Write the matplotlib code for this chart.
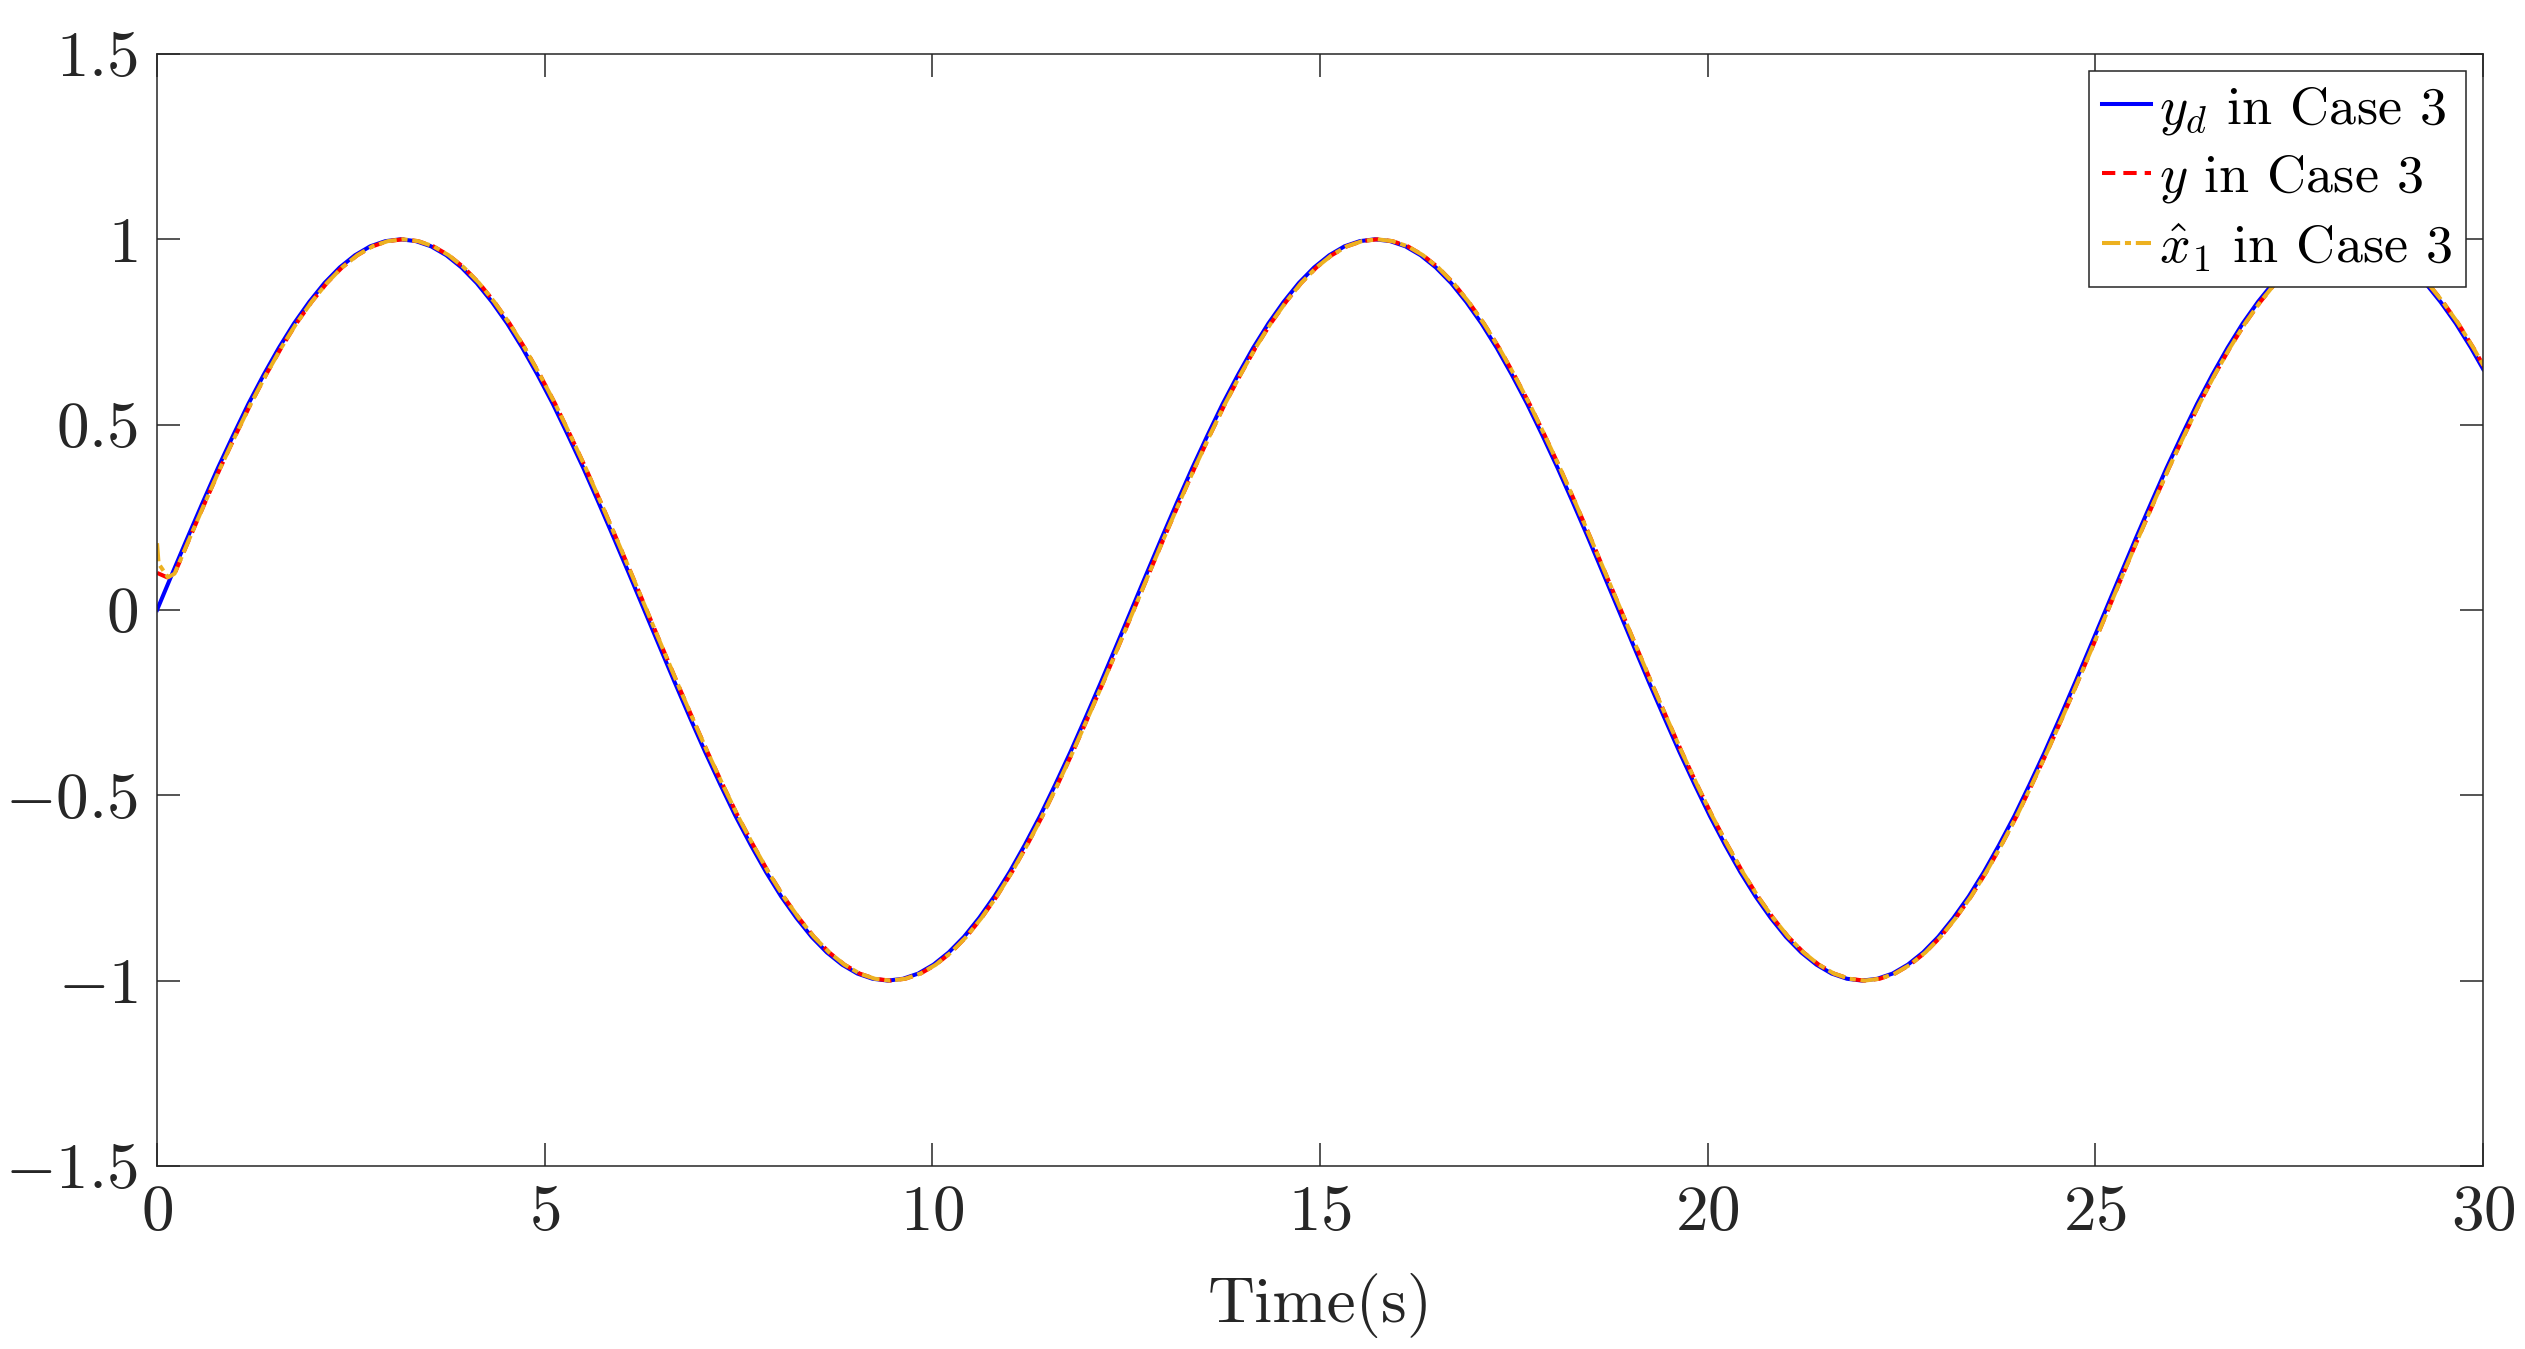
import matplotlib
matplotlib.use("Agg")
import matplotlib.pyplot as plt

# sample times (s) of the tracking run
t = [0.0, 0.196, 0.393, 0.589, 0.785, 0.982, 1.178, 1.374, 1.571, 1.767, 1.963, 2.160, 2.356, 2.553, 2.749, 2.945,
     3.142, 3.338, 3.534, 3.731, 3.927, 4.123, 4.320, 4.516, 4.712, 4.909, 5.105, 5.301, 5.498, 5.694, 5.890, 6.087,
     6.283, 6.480, 6.676, 6.872, 7.069, 7.265, 7.461, 7.658, 7.854, 8.050, 8.247, 8.443, 8.639, 8.836, 9.032, 9.228,
     9.425, 9.621, 9.817, 10.014, 10.210, 10.407, 10.603, 10.799, 10.996, 11.192, 11.388, 11.585, 11.781, 11.977, 12.174, 12.370,
     12.566, 12.763, 12.959, 13.155, 13.352, 13.548, 13.744, 13.941, 14.137, 14.334, 14.530, 14.726, 14.923, 15.119, 15.315, 15.512,
     15.708, 15.904, 16.101, 16.297, 16.493, 16.690, 16.886, 17.082, 17.279, 17.475, 17.671, 17.868, 18.064, 18.261, 18.457, 18.653,
     18.850, 19.046, 19.242, 19.439, 19.635, 19.831, 20.028, 20.224, 20.420, 20.617, 20.813, 21.009, 21.206, 21.402, 21.598, 21.795,
     21.991, 22.188, 22.384, 22.580, 22.777, 22.973, 23.169, 23.366, 23.562, 23.758, 23.955, 24.151, 24.347, 24.544, 24.740, 24.936,
     25.133, 25.329, 25.525, 25.722, 25.918, 26.115, 26.311, 26.507, 26.704, 26.900, 27.096, 27.293, 27.489, 27.685, 27.882, 28.078,
     28.274, 28.471, 28.667, 28.863, 29.060, 29.256, 29.452, 29.649, 29.845, 30.0]

# reference signal y_d
yd = [0.0, 0.098, 0.195, 0.290, 0.383, 0.471, 0.556, 0.634, 0.707, 0.773, 0.831, 0.882, 0.924, 0.957, 0.981, 0.995,
      1.0, 0.995, 0.981, 0.957, 0.924, 0.882, 0.831, 0.773, 0.707, 0.634, 0.556, 0.471, 0.383, 0.290, 0.195, 0.098,
      0.0, -0.098, -0.195, -0.290, -0.383, -0.471, -0.556, -0.634, -0.707, -0.773, -0.831, -0.882, -0.924, -0.957, -0.981, -0.995,
      -1.0, -0.995, -0.981, -0.957, -0.924, -0.882, -0.831, -0.773, -0.707, -0.634, -0.556, -0.471, -0.383, -0.290, -0.195, -0.098,
      0.0, 0.098, 0.195, 0.290, 0.383, 0.471, 0.556, 0.634, 0.707, 0.773, 0.831, 0.882, 0.924, 0.957, 0.981, 0.995,
      1.0, 0.995, 0.981, 0.957, 0.924, 0.882, 0.831, 0.773, 0.707, 0.634, 0.556, 0.471, 0.383, 0.290, 0.195, 0.098,
      0.0, -0.098, -0.195, -0.290, -0.383, -0.471, -0.556, -0.634, -0.707, -0.773, -0.831, -0.882, -0.924, -0.957, -0.981, -0.995,
      -1.0, -0.995, -0.981, -0.957, -0.924, -0.882, -0.831, -0.773, -0.707, -0.634, -0.556, -0.471, -0.383, -0.290, -0.195, -0.098,
      0.0, 0.098, 0.195, 0.290, 0.383, 0.471, 0.556, 0.634, 0.707, 0.773, 0.831, 0.882, 0.924, 0.957, 0.981, 0.995,
      1.0, 0.995, 0.981, 0.957, 0.924, 0.882, 0.831, 0.773, 0.707, 0.650]

# y and x1_hat follow y_d with a small delay (s) after an initial transient
lag = 0.03
y_t_start = [0.0, 0.13]
y_start = [0.10, 0.088]
xh_t_start = [0.0, 0.02, 0.14]
xh_start = [0.18, 0.125, 0.088]

y_t = y_t_start + [v + lag for v in t[1:]]
y = y_start + yd[1:]
xh_t = xh_t_start + [v + lag for v in t[1:]]
xh = xh_start + yd[1:]

xticks = [0, 5, 10, 15, 20, 25, 30]
xticklabels = ['$0$', '$5$', '$10$', '$15$', '$20$', '$25$', '$30$']
yticks = [-1.5, -1, -0.5, 0, 0.5, 1, 1.5]
yticklabels = ['$-1.5$', '$-1$', '$-0.5$', '$0$', '$0.5$', '$1$', '$1.5$']

plt.rcParams['font.family'] = 'serif'
plt.rcParams['font.serif'] = ['cmr10']
plt.rcParams['mathtext.fontset'] = 'cm'
plt.rcParams['axes.unicode_minus'] = False

dark = '#262626'
fig = plt.figure(figsize=(25.25, 13.49), dpi=100)
ax = fig.add_axes([0.0622, 0.1357, 0.9212, 0.8243])

lw = 2.9
ax.plot(t, yd, color='blue', lw=lw, label=r'$y_d$ in Case 3')
ax.plot(y_t, y, color='red', lw=lw, dashes=(3.3, 2.0), label=r'$y$ in Case 3')
ax.plot(xh_t, xh, color='#EDB120', lw=lw, dashes=(4.5, 1.2, 1.5, 1.2), label=r'$\hat{x}_1$ in Case 3')

ax.set_xlim(0, 30)
ax.set_ylim(-1.5, 1.5)
ax.set_xticks(xticks)
ax.set_xticklabels(xticklabels)
ax.set_yticks(yticks)
ax.set_yticklabels(yticklabels)
ax.tick_params(direction='in', length=16.5, width=1.1, top=True, right=True,
               labelsize=47, colors=dark, pad=14)
for s in ax.spines.values():
    s.set_linewidth(1.1)
    s.set_color(dark)

ax.set_xlabel('Time(s)', fontsize=47, color=dark, labelpad=21)

leg = ax.legend(loc='upper right', fontsize=39, frameon=True, fancybox=False,
                framealpha=1, edgecolor=dark, borderpad=0.25, labelspacing=0.3,
                handlelength=0.9, handletextpad=0.15, borderaxespad=0.32)
leg.get_frame().set_linewidth(1.1)

fig.savefig('out.png', dpi=100)
